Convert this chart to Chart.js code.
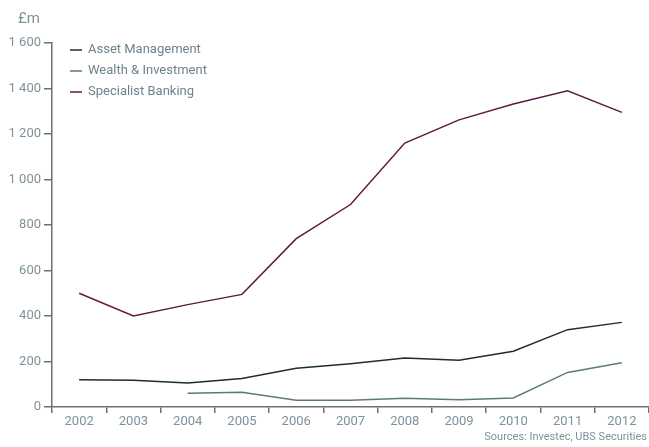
<html>
<head>
<style>
  body { margin: 0; background: #fff; }
  #wrap { position: relative; width: 649px; height: 447px; }
  #unit { position: absolute; left: 18px; top: 9px; font: 15px Roboto, sans-serif; color: #7f919b; }
  #src { position: absolute; right: 2px; top: 430px; font: 11px Roboto, sans-serif; color: #7f919b; }
</style>
</head>
<body>
<div id="wrap">
  <canvas id="myChart" width="649" height="447"></canvas>
  <div id="unit">£m</div>
  <div id="src">Sources: Investec, UBS Securities</div>
</div>
<script src="https://cdn.jsdelivr.net/npm/chart.js@4/dist/chart.umd.min.js"></script>
<script>
var years = ['2002', '2003', '2004', '2005', '2006', '2007', '2008', '2009', '2010', '2011', '2012'];
var assetManagement = [120, 118, 105, 125, 170, 190, 215, 205, 245, 340, 372];
var wealthInvestment = [null, null, 60, 65, 30, 30, 38, 32, 40, 152, 195];
var specialistBanking = [500, 400, 450, 495, 740, 890, 1160, 1262, 1332, 1390, 1295];
var seriesNames = ['Asset Management', 'Wealth & Investment', 'Specialist Banking'];
var seriesColors = ['#1c2e33', '#5f7880', '#5e1a44'];

var textColor = '#7f919b';
var axisColor = '#707070';
var fontFamily = 'Roboto, sans-serif';

function makeSet(i, values) {
    return {
        label: seriesNames[i],
        data: values,
        borderColor: seriesColors[i],
        backgroundColor: seriesColors[i],
        borderWidth: 1.5,
        pointRadius: 0,
        tension: 0,
        fill: false
    };
}

// legend drawn inside the plot, top left
var innerLegend = {
    id: 'innerLegend',
    afterDraw: function(chart) {
        var ctx = chart.ctx;
        ctx.save();
        ctx.font = '13px ' + fontFamily;
        ctx.textBaseline = 'middle';
        for (var i = 0; i < seriesNames.length; i++) {
            var y = 50 + i * 21;
            ctx.strokeStyle = seriesColors[i];
            ctx.lineWidth = 1.5;
            ctx.beginPath();
            ctx.moveTo(70, y);
            ctx.lineTo(82, y);
            ctx.stroke();
            ctx.fillStyle = '#6f838d';
            ctx.fillText(seriesNames[i], 88, y);
        }
        ctx.restore();
    }
};

var ctx = document.getElementById('myChart').getContext('2d');
var chart = new Chart(ctx, {
    type: 'line',
    data: {
        labels: years,
        datasets: [
            makeSet(0, assetManagement),
            makeSet(1, wealthInvestment),
            makeSet(2, specialistBanking)
        ]
    },
    options: {
        responsive: false,
        animation: false,
        layout: { padding: { top: 43, right: 0, bottom: 0, left: 0 } },
        plugins: {
            legend: { display: false },
            tooltip: { enabled: false }
        },
        scales: {
            x: {
                offset: true,
                grid: {
                    offset: true,
                    drawOnChartArea: false,
                    drawTicks: true,
                    tickLength: 6,
                    color: axisColor,
                    lineWidth: 1.5
                },
                border: { color: axisColor, width: 1.5 },
                ticks: { color: textColor, font: { family: fontFamily, size: 13 }, padding: 1, maxRotation: 0 },
                afterFit: function(scale) { scale.height = 40; }
            },
            y: {
                min: 0,
                max: 1600,
                grid: {
                    drawOnChartArea: false,
                    drawTicks: true,
                    tickLength: 8,
                    color: axisColor,
                    lineWidth: 1.5
                },
                border: { color: axisColor, width: 1.5 },
                ticks: {
                    stepSize: 200,
                    color: textColor,
                    font: { family: fontFamily, size: 13 },
                    padding: 3,
                    callback: function(v) { return String(v).replace(/\B(?=(\d{3})+(?!\d))/g, ' '); }
                },
                afterFit: function(scale) { scale.width = 52; }
            }
        }
    },
    plugins: [innerLegend]
});
</script>
</body>
</html>
